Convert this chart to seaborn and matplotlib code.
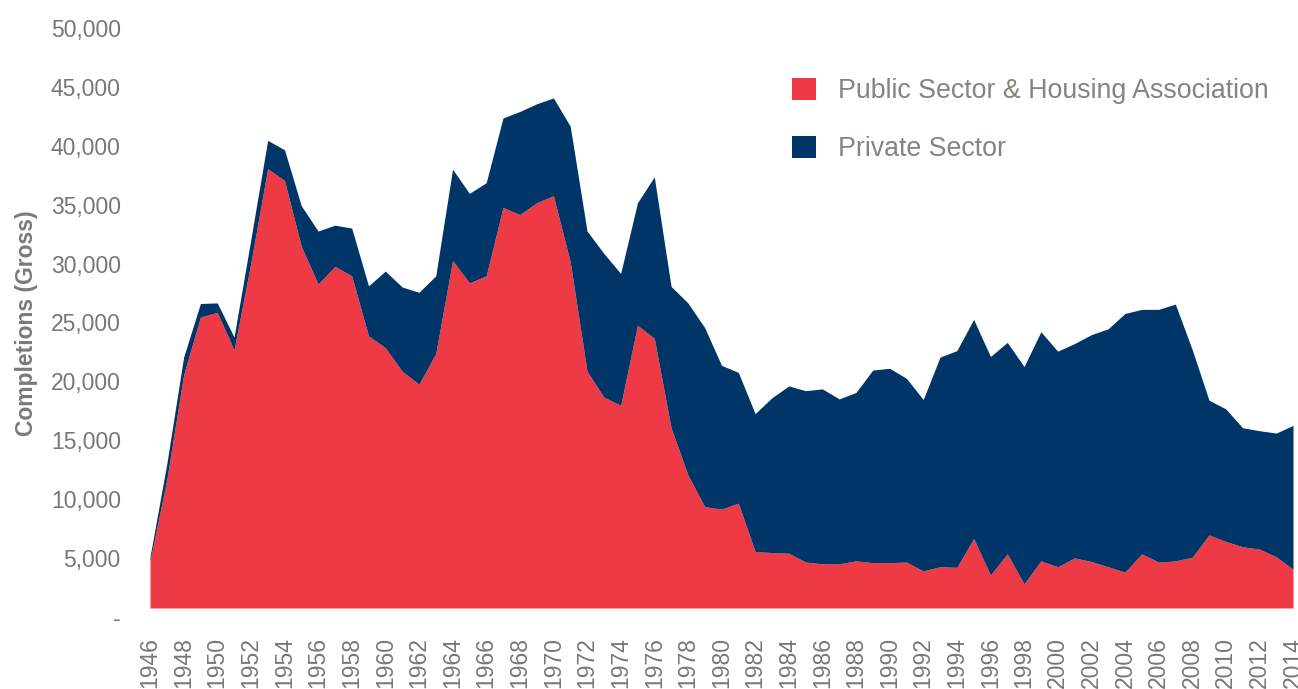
import matplotlib
matplotlib.use("Agg")
import matplotlib.pyplot as plt
import matplotlib.transforms as mtransforms
from matplotlib.patches import Patch
import seaborn as sns

# Housing completions by sector, 1946-2014
years = list(range(1946, 2015))

public = [
    4000, 10900, 19800, 24700, 25100, 21900, 29300, 37300, 36300, 30700,
    27500, 29000, 28200, 23100, 22100, 20100, 19000, 21600, 29500, 27600,
    28200, 34000, 33400, 34400, 35000, 29400, 20100, 17900, 17200, 24000,
    22900, 15300, 11300, 8600, 8400, 8900, 4800, 4700, 4650, 3900,
    3750, 3750, 4000, 3850, 3850, 3900, 3150, 3500, 3450, 5900,
    2800, 4600, 2050, 4000, 3500, 4250, 3950, 3500, 3050, 4600,
    3900, 4000, 4300, 6200, 5650, 5200, 5000, 4350, 3300,
]

private = [
    350, 1350, 1500, 1150, 800, 1100, 2000, 2400, 2600, 3450,
    4500, 3500, 4050, 4250, 6500, 7150, 7800, 6600, 7750, 7600,
    7900, 7600, 8750, 8400, 8300, 11500, 11900, 12200, 11200, 10400,
    13700, 12000, 14600, 15200, 12200, 11100, 11700, 13150, 14200, 14550,
    14850, 14000, 14300, 16350, 16500, 15600, 14550, 17800, 18400, 18600,
    18550, 17950, 18450, 19450, 18300, 18200, 19250, 20200, 21950, 20750,
    21450, 21800, 17650, 11450, 11250, 10100, 10050, 10500, 12200,
]

series_names = ["Public Sector & Housing Association", "Private Sector"]
y_ticks = list(range(0, 50001, 5000))

red = "#ED3A44"
navy = "#003567"
tick_grey = "#777777"
legend_grey = "#85857B"

sns.set_style("white")
plt.rcParams["font.family"] = ["Liberation Sans", "DejaVu Sans"]

fig = plt.figure(figsize=(12.98, 6.89), dpi=100)
ax = fig.add_axes([150 / 1298, 81 / 689, 1143 / 1298, 589 / 689])

ax.stackplot(years, public, private, colors=[red, navy], linewidth=0)

ax.set_xlim(1946, 2014)
ax.set_ylim(0, 50000)
sns.despine(ax=ax, left=True, bottom=True)

ax.set_xticks(years[::2])
ax.set_xticklabels([str(y) for y in years[::2]], rotation=90)
ax.set_yticks(y_ticks)
ax.set_yticklabels(["-" if v == 0 else f"{v:,}" for v in y_ticks])
ax.tick_params(axis="both", length=0, pad=21, labelsize=16.5, labelcolor=tick_grey)

# labels sit a little below their values in the original
shift = mtransforms.ScaledTranslation(0, -0.09, fig.dpi_scale_trans)
for lab in ax.get_yticklabels():
    lab.set_transform(lab.get_transform() + shift)

ax.set_ylabel("Completions (Gross)", fontsize=16.5, fontweight="bold", color="#7A7A7A")
ax.yaxis.set_label_coords(-0.098, 0.484)

handles = [Patch(facecolor=red, edgecolor="none"), Patch(facecolor=navy, edgecolor="none")]
fig.legend(handles, series_names, loc="upper left",
           bbox_to_anchor=(792 / 1298, 1 - 78 / 689), frameon=False,
           fontsize=19.3, labelcolor=legend_grey, handlelength=0.9, handleheight=0.9,
           handletextpad=0.82, labelspacing=1.18, borderpad=0, borderaxespad=0)

fig.savefig("out.png", dpi=100, facecolor="white")
